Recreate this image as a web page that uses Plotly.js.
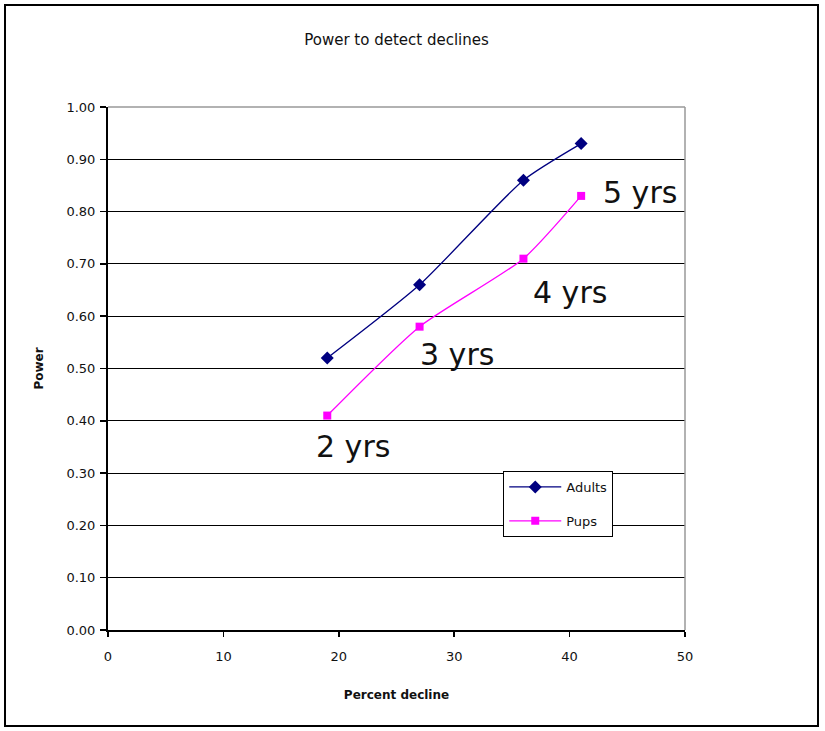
<!DOCTYPE html>
<html>
<head>
<meta charset="utf-8">
<script src="https://cdn.plot.ly/plotly-3.0.1.min.js"></script>
<style>html,body{margin:0;padding:0;background:#fff;}#chart{width:825px;height:731px;}</style>
</head>
<body>
<div id="chart"></div>
<script>
const percentDecline = [19, 27, 36, 41];
const adultsPower = [0.52, 0.66, 0.86, 0.93];
const pupsPower = [0.41, 0.58, 0.71, 0.83];
const yearLabels = ["2 yrs", "3 yrs", "4 yrs", "5 yrs"];
const labelX = [21.2, 30.2, 40.0, 46.1];
const labelY = [0.35, 0.526, 0.646, 0.836];

const font = "DejaVu Sans, Verdana, sans-serif";

const traces = [
  {x: percentDecline, y: adultsPower, name: "Adults", mode: "lines+markers", legendgroup: "a",
   line: {color: "#000080", width: 1.3, shape: "spline", smoothing: 0.6},
   marker: {symbol: "diamond", size: 10, color: "#000080"}},
  {x: percentDecline, y: pupsPower, name: "Pups", mode: "lines+markers", legendgroup: "p",
   line: {color: "#FF00FF", width: 1.3, shape: "spline", smoothing: 0.6},
   marker: {symbol: "square", size: 8, color: "#FF00FF"}}
];

const annotations = yearLabels.map((t, i) => ({
  x: labelX[i], y: labelY[i], xref: "x", yref: "y", text: t, showarrow: false,
  font: {family: font, size: 30, color: "#111"}, xanchor: "center", yanchor: "middle"
}));

const layout = {
  width: 825, height: 731,
  margin: {l: 108, r: 140, t: 107, b: 101},
  paper_bgcolor: "#fff", plot_bgcolor: "#fff",
  font: {family: font, color: "#000", size: 13},
  title: {text: "Power to detect declines", font: {family: font, size: 15, color: "#111"},
          x: 0.5, xanchor: "center", xref: "paper", y: 1 - 40/731, yanchor: "middle"},
  xaxis: {range: [0, 50], dtick: 10, showgrid: false, zeroline: false,
          showline: true, linecolor: "#000", linewidth: 2,
          ticks: "outside", ticklen: 5, tickcolor: "#000", tickwidth: 1.5,
          ticklabelstandoff: 8,
          tickfont: {family: font, size: 13, color: "#111"},
          title: {text: "<b>Percent decline</b>", font: {family: font, size: 12, color: "#111"}, standoff: 28}},
  yaxis: {range: [0, 1], dtick: 0.1, tickformat: ".2f", showgrid: true, gridcolor: "#000", gridwidth: 1.2,
          zeroline: false, showline: true, linecolor: "#000", linewidth: 2,
          ticks: "outside", ticklen: 6, tickcolor: "#000", tickwidth: 1.5,
          ticklabelstandoff: 2,
          tickfont: {family: font, size: 13, color: "#111"},
          title: {text: "<b>Power</b>", font: {family: font, size: 12, color: "#111"}, standoff: 20}},
  legend: {x: 0.685, y: 0.304, xanchor: "left", yanchor: "top", bgcolor: "#fff",
           bordercolor: "#000", borderwidth: 1, font: {family: font, size: 13, color: "#111"},
           tracegroupgap: 14, itemwidth: 52},
  showlegend: true,
  annotations: annotations,
  shapes: [
    {type: "line", xref: "paper", yref: "paper", x0: 0, x1: 1, y0: 1, y1: 1, line: {color: "#999", width: 1.5}, layer: "above"},
    {type: "line", xref: "paper", yref: "paper", x0: 1, x1: 1, y0: 0, y1: 1, line: {color: "#999", width: 1.5}, layer: "above"},
    {type: "rect", xref: "paper", yref: "paper", x0: -0.1785, x1: 1.2305, y0: -0.1836, y1: 1.195,
     line: {color: "#000", width: 2}, layer: "below"}
  ]
};

Plotly.newPlot("chart", traces, layout, {displayModeBar: false, staticPlot: true});
</script>
</body>
</html>
